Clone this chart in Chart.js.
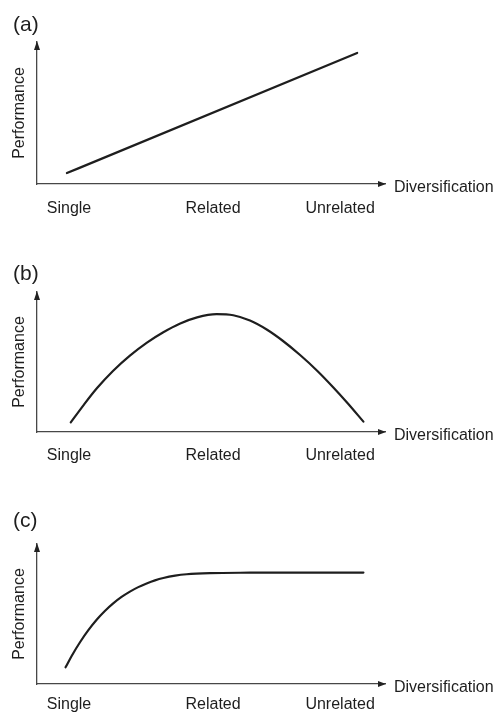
<!DOCTYPE html>
<html>
<head>
<meta charset="utf-8">
<script src="https://cdn.jsdelivr.net/npm/chart.js@4.4.1/dist/chart.umd.min.js"></script>
<style>
  html, body { margin: 0; padding: 0; background: #ffffff; }
  #wrap { position: relative; width: 499px; height: 719px; overflow: hidden; }
  .panel { position: absolute; left: 0; width: 499px; }
</style>
</head>
<body>
<div id="wrap">
  <div class="panel" style="top:0;height:240px"><canvas id="ca"></canvas></div>
  <div class="panel" style="top:240px;height:240px"><canvas id="cb"></canvas></div>
  <div class="panel" style="top:480px;height:239px"><canvas id="cc"></canvas></div>
</div>
<script>
// ---- data ----
const panelLabels = ['(a)', '(b)', '(c)'];
const xAxisTitle = 'Diversification';
const yAxisTitle = 'Performance';
const xLabels = ['Single', 'Related', 'Unrelated'];
const xLabelValues = [9.2, 50.6, 87.1];

// (a) linear rise
const aX = [8.6, 92.0];
const aY = [7.7, 92.3];

// (b) inverted U
const bX = [9.7, 13.5, 17.2, 21.9, 26.7, 31.6, 36.3, 41.0, 46.0, 51.6, 56.4, 61.2, 66.0, 70.7, 75.6, 80.5, 85.1, 89.4, 93.8];
const bY = [6.9, 19.6, 31.2, 43.8, 54.6, 63.9, 71.3, 77.4, 81.9, 84.2, 83.4, 79.6, 73.2, 65.0, 55.0, 43.8, 32.0, 20.2, 7.4];

// (c) rise then plateau
const cX = [8.2, 10.0, 12.4, 14.7, 17.2, 19.5, 21.9, 24.3, 26.7, 29.1, 31.5, 33.9, 36.3, 39.7, 43.0, 49.7, 61.2, 75.6, 93.8];
const cY = [11.9, 20.2, 30.0, 38.3, 46.1, 52.2, 57.6, 62.2, 66.0, 69.2, 71.8, 74.0, 75.7, 77.4, 78.4, 79.2, 79.5, 79.6, 79.6];

// ---- styling ----
const SANS = '"Liberation Sans", Arial, Helvetica, sans-serif';
const INK = '#1e1e1e';
const AXIS = '#474747';

const decor = {
  id: 'decor',
  afterDraw(chart) {
    const { ctx, chartArea: { left, right, top, bottom } } = chart;
    ctx.save();
    ctx.fillStyle = '#222222';
    // y-axis arrowhead
    ctx.beginPath();
    ctx.moveTo(left, top - 1);
    ctx.lineTo(left - 3, top + 8);
    ctx.lineTo(left + 3, top + 8);
    ctx.closePath();
    ctx.fill();
    // x-axis arrowhead
    ctx.beginPath();
    ctx.moveTo(right + 1, bottom);
    ctx.lineTo(right - 7, bottom - 3);
    ctx.lineTo(right - 7, bottom + 3);
    ctx.closePath();
    ctx.fill();
    // axis caption to the right of the arrow
    ctx.font = '16px ' + SANS;
    ctx.textBaseline = 'middle';
    ctx.textAlign = 'left';
    ctx.fillStyle = INK;
    ctx.fillText(xAxisTitle, right + 9, bottom + 4);
    ctx.restore();
  }
};

function makePanel(id, label, xs, ys, cfg) {
  const pts = xs.map((x, i) => ({ x: x, y: ys[i] }));
  return new Chart(document.getElementById(id), {
    type: 'scatter',
    data: {
      datasets: [{
        data: pts,
        showLine: true,
        borderColor: INK,
        borderWidth: 2.2,
        pointRadius: 0,
        pointHoverRadius: 0,
        fill: false,
        cubicInterpolationMode: 'monotone',
        borderCapStyle: 'round',
        borderJoinStyle: 'round'
      }]
    },
    options: {
      responsive: true,
      maintainAspectRatio: false,
      devicePixelRatio: 1,
      animation: false,
      events: [],
      layout: { padding: { left: 13, right: 114, top: 0, bottom: 0 } },
      plugins: {
        legend: { display: false },
        tooltip: { enabled: false },
        title: {
          display: true,
          text: label,
          align: 'start',
          color: INK,
          font: { family: SANS, size: 21, weight: 'normal', lineHeight: 1.2 },
          padding: { top: cfg.titleTop, bottom: cfg.titleBottom }
        }
      },
      scales: {
        x: {
          type: 'linear',
          min: 0,
          max: 100,
          grid: { display: false, drawTicks: false },
          border: { display: true, color: AXIS, width: 1.3 },
          afterBuildTicks(scale) {
            scale.ticks = xLabelValues.map(v => ({ value: v }));
          },
          afterFit(scale) { scale.height = cfg.xHeight; },
          ticks: {
            autoSkip: false,
            maxRotation: 0,
            padding: cfg.tickPad,
            color: INK,
            font: { family: SANS, size: 16 },
            callback: (v, i) => xLabels[i]
          }
        },
        y: {
          type: 'linear',
          min: 0,
          max: 100,
          grid: { display: false, drawTicks: false },
          border: { display: true, color: AXIS, width: 1.3 },
          ticks: { display: false },
          afterFit(scale) { scale.width = 24; },
          title: {
            display: true,
            text: yAxisTitle,
            color: INK,
            padding: 0,
            font: { family: SANS, size: 16, lineHeight: 0.875 }
          }
        }
      }
    },
    plugins: [decor]
  });
}

makePanel('ca', panelLabels[0], aX, aY, { titleTop: 12.4, titleBottom: 4.4, xHeight: 56, tickPad: 15.4 });
makePanel('cb', panelLabels[1], bX, bY, { titleTop: 21.4, titleBottom: 5.4, xHeight: 48, tickPad: 14.4 });
makePanel('cc', panelLabels[2], cX, cY, { titleTop: 28.4, titleBottom: 10.4, xHeight: 35, tickPad: 11.4 });
</script>
</body>
</html>
